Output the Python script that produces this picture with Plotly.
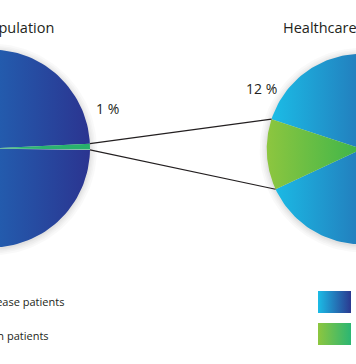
import numpy as np
import plotly.graph_objects as go

# ---- data ----
categories = ["Chronic disease patients", "Transplantation patients"]
population_share = [99, 1]      # % of population
healthcare_share = [88, 12]     # % of healthcare costs
pie_titles = ["Population", "Healthcare"]
pct_labels = ["1 %", "12 %"]

# ---- layout / style ----
W, H = 356, 364
FONT = "Open Sans, Lato, sans-serif"
TXT = "#231f20"

pies = [
    dict(values=population_share, cx=-9.0, cy=148.5, r=99.0, rot=1.0,
         grads=[["#1a8ad0", "#2b3490"], ["#2fb879", "#27b06a"]]),
    dict(values=healthcare_share, cx=362.0, cy=149.0, r=95.3, rot=183.35,
         grads=[["#1bbce6", "#2b3990"], ["#8dc63f", "#3cb54a"]]),
]


def arc(cx, cy, r, a0, a1, n=160):
    a = np.radians(np.linspace(a0, a1, n))
    return cx + r * np.cos(a), cy - r * np.sin(a)


fig = go.Figure()

# soft glow shadow
for p in pies:
    for dr in [7, 5, 3.5, 2, 1]:
        x, y = arc(p["cx"], p["cy"] + 1, p["r"] + dr, 0, 360)
        fig.add_trace(go.Scatter(x=x, y=y, mode="lines", fill="toself",
                                 fillcolor="rgba(0,0,0,0.025)", line=dict(width=0),
                                 hoverinfo="skip", showlegend=False))

ends = []
for p in pies:
    vals = np.array(p["values"], float)
    ang_small = 360 * vals[1] / vals.sum()
    g0 = p["rot"] - ang_small / 2
    g1 = p["rot"] + ang_small / 2
    spans = [(g1, g0 + 360), (g0, g1)]
    for (a0, a1), gr, name in zip(spans, p["grads"], categories):
        ax_, ay_ = arc(p["cx"], p["cy"], p["r"], a0, a1)
        x = np.concatenate([[p["cx"]], ax_, [p["cx"]]])
        y = np.concatenate([[p["cy"]], ay_, [p["cy"]]])
        fig.add_trace(go.Scatter(
            x=x, y=y, mode="lines", fill="toself",
            fillgradient=dict(type="horizontal",
                              colorscale=[[0, gr[0]], [1, gr[1]]]),
            line=dict(width=0), hoverinfo="skip", showlegend=False, name=name))
    e0 = (p["cx"] + p["r"] * np.cos(np.radians(g0)), p["cy"] - p["r"] * np.sin(np.radians(g0)))
    e1 = (p["cx"] + p["r"] * np.cos(np.radians(g1)), p["cy"] - p["r"] * np.sin(np.radians(g1)))
    ends.append((e0, e1))

# connector lines
(lA, lB), (rA, rB) = ends
left_up, left_lo = (lB, lA) if lB[1] < lA[1] else (lA, lB)
right_up, right_lo = (rA, rB) if rA[1] < rB[1] else (rB, rA)
for a, b in [(left_up, right_up), (left_lo, right_lo)]:
    fig.add_trace(go.Scatter(x=[a[0], b[0]], y=[a[1], b[1]], mode="lines",
                             line=dict(color="#231f20", width=1.1),
                             hoverinfo="skip", showlegend=False))

# legend swatches (right column)
sw_x0, sw_x1 = 318, 351
sw_rows = [(291, 313), (323, 345)]
sw_grads = [["#1bbce6", "#2b3990"], ["#8dc63f", "#2bb673"]]
for (y0, y1), gr in zip(sw_rows, sw_grads):
    fig.add_trace(go.Scatter(x=[sw_x0, sw_x1, sw_x1, sw_x0, sw_x0],
                             y=[y0, y0, y1, y1, y0], mode="lines", fill="toself",
                             fillgradient=dict(type="horizontal",
                                               colorscale=[[0, gr[0]], [1, gr[1]]]),
                             line=dict(width=0), hoverinfo="skip", showlegend=False))

ann = []
ann.append(dict(x=56, y=27, text=pie_titles[0], xanchor="right", yanchor="middle",
                font=dict(size=14.5, color=TXT, family=FONT)))
ann.append(dict(x=281, y=27, text=pie_titles[1], xanchor="left", yanchor="middle",
                font=dict(size=14.5, color=TXT, family=FONT)))
ann.append(dict(x=107.5, y=108.5, text=pct_labels[0], xanchor="center", yanchor="middle",
                font=dict(size=14, color=TXT, family=FONT)))
ann.append(dict(x=261.5, y=88.5, text=pct_labels[1], xanchor="center", yanchor="middle",
                font=dict(size=14, color=TXT, family=FONT)))
for yy, xr, lab in zip([301.5, 335.5], [66, 51], categories):
    ann.append(dict(x=xr, y=yy, text=lab, xanchor="right", yanchor="middle",
                    font=dict(size=11, color=TXT, family=FONT)))
for (y0, y1), lab in zip(sw_rows, categories):
    ann.append(dict(x=355, y=(y0 + y1) / 2, text=lab, xanchor="left", yanchor="middle",
                    font=dict(size=11, color=TXT, family=FONT)))

for a in ann:
    a.update(xref="x", yref="y", showarrow=False)

fig.update_layout(
    width=W, height=H, margin=dict(l=0, r=0, t=0, b=0),
    paper_bgcolor="white", plot_bgcolor="white",
    xaxis=dict(range=[0, W], visible=False, fixedrange=True),
    yaxis=dict(range=[H, 0], visible=False, fixedrange=True),
    annotations=ann, showlegend=False,
)

fig.write_html("out.html",
               config={"displayModeBar": False, "staticPlot": True},
               post_script="document.body.style.margin='0';"
                           "document.documentElement.style.overflow='hidden';")
